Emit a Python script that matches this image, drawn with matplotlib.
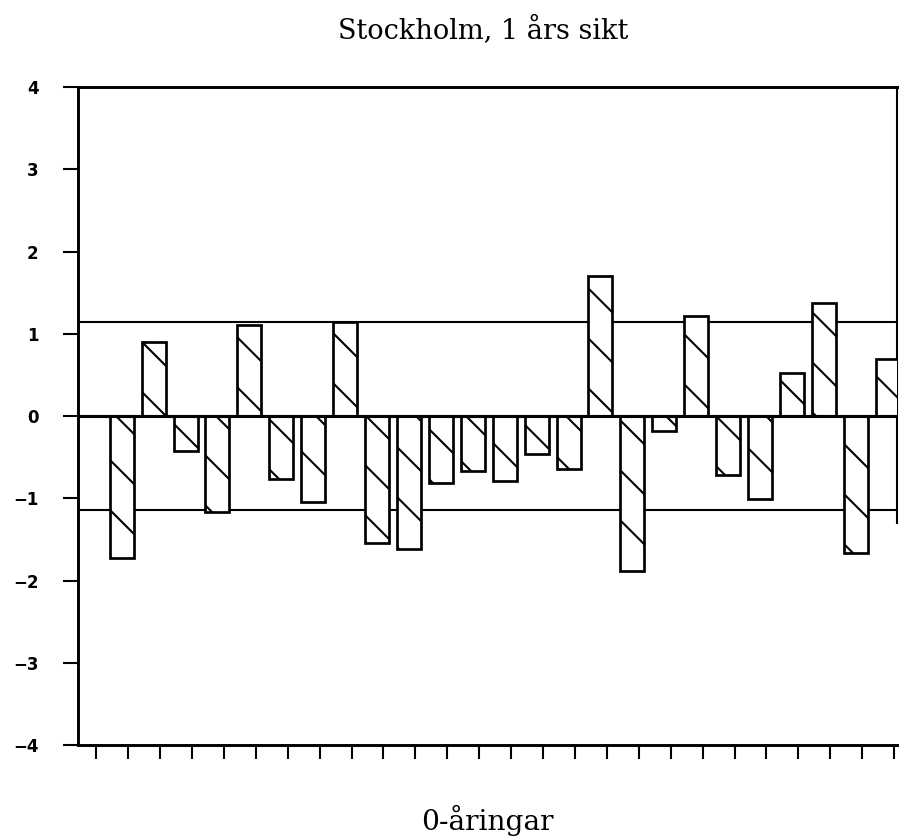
import numpy as np
import matplotlib.pyplot as plt

# avvikelser per år, 0-åringar
values = [-1.73, 0.90, -0.43, -1.17, 1.11, -0.76, -1.04, 1.15, -1.54, -1.61,
          -0.81, -0.67, -0.79, -0.46, -0.64, 1.70, -1.88, -0.18, 1.22, -0.72,
          -1.01, 0.53, 1.38, -1.67, 0.69]
limit = 1.14
yticks = [-4, -3, -2, -1, 0, 1, 2, 3, 4]

plt.rcParams['hatch.linewidth'] = 1.0

fig = plt.figure(figsize=(6, 839 / 150), dpi=150)
ax = fig.add_axes([0.087, 0.112, 0.91, 0.784])

x = np.arange(1, len(values) + 1) - 0.2
ax.bar(x, values, width=0.75, facecolor='white', edgecolor='black',
       linewidth=1.3, hatch='\\', zorder=3)

ax.axhline(0, color='black', linewidth=1.5, zorder=4)
ax.axhline(limit, color='black', linewidth=1.0, zorder=2)
ax.axhline(-limit, color='black', linewidth=1.0, zorder=2)

ax.set_xlim(-0.56, 25.1)
ax.set_ylim(-4, 4)
ax.set_xticks(np.arange(0, 26))
ax.set_xticklabels([])
ax.set_yticks(yticks)
ax.set_yticklabels([str(t).replace('-', '\u2212') for t in yticks],
                   fontfamily='DejaVu Sans', fontweight='bold', fontsize=8)

ax.tick_params(axis='x', direction='out', length=6.5, width=1.0)
ax.tick_params(axis='y', direction='out', length=7, width=1.0, pad=12)

for side in ['left', 'bottom', 'top']:
    ax.spines[side].set_linewidth(1.4)
ax.spines['right'].set_linewidth(1.0)
ax.spines['right'].set_bounds(-1.3, 4)

fig.text(0.537, 0.964, 'Stockholm, 1 års sikt', ha='center', va='center',
         fontfamily='DejaVu Serif', fontsize=13)
fig.text(0.541, 0.022, '0-åringar', ha='center', va='center',
         fontfamily='DejaVu Serif', fontsize=13.5)

fig.savefig('out.png', dpi=150)
